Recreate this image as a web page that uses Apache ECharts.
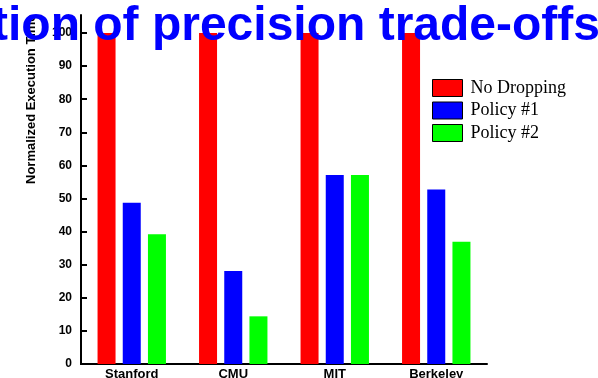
<!DOCTYPE html>
<html>
<head>
    <meta charset="utf-8">
    <title>precision trade-offs</title>
    <script src="https://cdn.jsdelivr.net/npm/echarts@6/dist/echarts.min.js"></script>
    <style>
        html, body { margin: 0; padding: 0; background: #fff; }
        #main { width: 598px; height: 378px; }
    </style>
</head>
<body>
<div id="main"></div>
<script type="text/javascript">
    // data
    var categories = ['Stanford', 'CMU', 'MIT', 'Berkeley'];
    var noDropping = [100, 100, 100, 100];
    var policy1 = [48.7, 28.1, 57.1, 52.7];
    var policy2 = [39.2, 14.4, 57.1, 36.9];

    var myChart = echarts.init(document.getElementById('main'));
    var option = {
        animation: false,
        title: {
            text: 'Evaluation of precision trade-offs',
            right: -7,
            top: -2,
            z: 20,
            textStyle: {
                color: '#0000ff',
                fontFamily: 'Liberation Sans',
                fontWeight: 'bold',
                fontSize: 48
            }
        },
        legend: {
            orient: 'vertical',
            left: 432,
            top: 79,
            padding: 0,
            itemWidth: 30,
            itemHeight: 17,
            itemGap: 4.5,
            icon: 'rect',
            itemStyle: { borderColor: '#000', borderWidth: 1 },
            textStyle: {
                fontFamily: 'Liberation Serif',
                fontSize: 18,
                color: '#000',
                padding: [0, 0, 0, 3]
            },
            data: ['No Dropping', 'Policy #1', 'Policy #2']
        },
        graphic: [{
            type: 'text',
            x: 25,
            y: 184,
            rotation: Math.PI / 2,
            style: {
                text: 'Normalized Execution Time',
                fontFamily: 'Liberation Sans',
                fontWeight: 'bold',
                fontSize: 13,
                fill: '#000',
                align: 'left',
                verticalAlign: 'top'
            }
        }],
        grid: [
            // data area, 100 sits at the top
            { left: 81, right: 111, top: 33, bottom: 14, outerBoundsMode: 'none' },
            // only used to draw the y axis line a bit above 100
            { left: 81, right: 111, top: 15, bottom: 14, outerBoundsMode: 'none' }
        ],
        xAxis: [
            {
                type: 'category',
                data: categories,
                gridIndex: 0,
                axisLine: { lineStyle: { color: '#000', width: 2 } },
                axisTick: { show: false },
                axisLabel: {
                    margin: 4,
                    color: '#000',
                    fontFamily: 'Liberation Sans',
                    fontWeight: 'bold',
                    fontSize: 13
                }
            },
            { type: 'category', data: categories, gridIndex: 1, show: false }
        ],
        yAxis: [
            {
                type: 'value',
                gridIndex: 0,
                min: 0,
                max: 100,
                interval: 10,
                splitLine: { show: false },
                axisLine: { show: true, lineStyle: { color: '#000', width: 2 } },
                axisTick: {
                    show: true,
                    inside: true,
                    length: 6,
                    lineStyle: { color: '#000', width: 2 }
                },
                axisLabel: {
                    margin: 9,
                    color: '#000',
                    fontFamily: 'Liberation Sans',
                    fontWeight: 'bold',
                    fontSize: 12
                }
            },
            {
                type: 'value',
                gridIndex: 1,
                min: 0,
                max: 105,
                splitLine: { show: false },
                axisLine: { show: true, lineStyle: { color: '#000', width: 2 } },
                axisTick: { show: false },
                axisLabel: { show: false }
            }
        ],
        series: [
            {
                name: 'No Dropping',
                type: 'bar',
                data: noDropping,
                barWidth: 18,
                barGap: '40%',
                itemStyle: { color: '#ff0000' }
            },
            {
                name: 'Policy #1',
                type: 'bar',
                data: policy1,
                barWidth: 18,
                barGap: '40%',
                itemStyle: { color: '#0000ff' }
            },
            {
                name: 'Policy #2',
                type: 'bar',
                data: policy2,
                barWidth: 18,
                barGap: '40%',
                itemStyle: { color: '#00ff00' }
            }
        ]
    };
    myChart.setOption(option);
</script>
</body>
</html>
